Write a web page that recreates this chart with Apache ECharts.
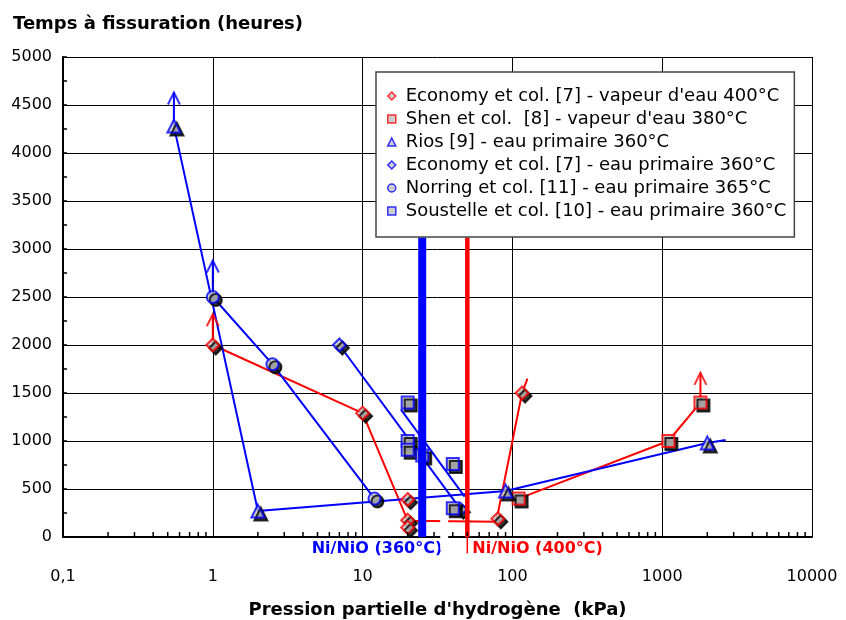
<!DOCTYPE html>
<html><head><meta charset="utf-8">
<script src="https://cdn.jsdelivr.net/npm/echarts@6/dist/echarts.min.js"></script>
<style>html,body{margin:0;padding:0;background:#fff}#c{width:846px;height:620px}</style>
</head><body><div id="c"></div>
<script>
// ---- data (x: kPa, y: heures) ----
const xTickLabels = ['0,1', '1', '10', '100', '1000', '10000'];
const xMinorTicks = [0.2,0.3,0.4,0.5,0.6,0.7,0.8,0.9, 2,3,4,5,6,7,8,9, 20,30,40,50,60,70,80,90,
                     200,300,400,500,600,700,800,900, 2000,3000,4000,5000,6000,7000,8000,9000];
const seriesNames = [
  "Economy et col. [7] - vapeur d'eau 400°C",
  "Shen et col.  [8] - vapeur d'eau 380°C",
  "Rios [9] - eau primaire 360°C",
  "Economy et col. [7] - eau primaire 360°C",
  "Norring et col. [11] - eau primaire 365°C",
  "Soustelle et col. [10] - eau primaire 360°C"
];
const econVapPts   = [[1,2000],[10,1290],[20,390],[20,175],[20,100],[80,190],[116,1500]];
const econVapCurve = [[1,2000],[10,1290],[20,170],[78,160],[116,1500],[126,1650]];
const shenPts      = [[110,400],[1100,1000],[1800,1400]];
const shenCurve    = [[110,400],[1100,1000],[1800,1400]];
const riosPts      = [[0.55,4280],[2,270],[90,480],[2000,980]];
const riosCurve    = [[0.55,4280],[2,270],[90,480],[2000,980],[2650,1010]];
const econPrimPts  = [[7,2000],[45,290]];
const econPrimCurve= [[7,2000],[45,290]];
const norringPts   = [[1,2500],[2.5,1800],[12,400]];
const norringCurve = [[1,2500],[2.5,1800],[12,400]];
const soustPts     = [[20,1400],[20,1000],[20,910],[25,850],[40,760],[40,300]];
const soustCurve   = [[18,1330],[48,420]];
// arrows (lower bound results): [start, tip]
const econVapArrow = [[1,2000],[1,2320]];
const norringArrow = [[1,2500],[1,2880]];
const riosArrow    = [[0.55,4280],[0.55,4630]];
const shenArrow    = [[1800,1400],[1800,1710]];
// Ni/NiO equilibrium
const niNio360 = 25, niNio400 = 50;
const niNioTop = 3120, niNioBelow = -170;

const FONT = '"DejaVu Sans", Verdana, sans-serif';
const RED = '#ff0000', BLUE = '#0000ff', FILL = '#c0c0c0';

function markers(name, data, symbol, size, color) {
  return { type:'scatter', name, data, symbol, symbolSize:size, z:5,
    itemStyle:{ color:FILL, borderColor:color, borderWidth:2,
      shadowColor:'#000', shadowOffsetX:3, shadowOffsetY:3, shadowBlur:0 } };
}
function curve(id, data, color) {
  return { type:'line', name:id, data, symbol:'none', showSymbol:false, z:3,
    lineStyle:{ color, width:2 }, itemStyle:{color}, clip:false, silent:true };
}
function arrowHead(id, arrow, color) {
  return { type:'scatter', name:id, data:[arrow[1]], z:4, silent:true,
    symbol:'path://M0,12 L6,0 L12,12', symbolSize:[12,12], symbolOffset:[0,6],
    itemStyle:{ color:'rgba(0,0,0,0)', borderColor:color, borderWidth:2 } };
}

const chart = echarts.init(document.getElementById('c'), null, {renderer:'canvas'});
chart.setOption({
  animation:false,
  backgroundColor:'#fff',
  title:{ text:'Temps à fissuration (heures)', left:8, top:10,
    textStyle:{ fontFamily:FONT, fontSize:18, fontWeight:'bold', color:'#000' } },
  grid:{ left:63, right:34, top:57, bottom:83, containLabel:false, outerBoundsMode:'none' },
  legend:{
    data: seriesNames, orient:'vertical', align:'left', left:376, top:72,
    padding:[15,8,17,11], itemGap:5, itemWidth:8, itemHeight:8,
    backgroundColor:'#fff', borderColor:'#444', borderWidth:1.5, z:20,
    textStyle:{ fontFamily:FONT, fontSize:18, color:'#000', lineHeight:18, padding:[0,0,0,5] },
    itemStyle:{ borderWidth:1.5, shadowColor:'rgba(0,0,0,0)', shadowOffsetX:0, shadowOffsetY:0, shadowBlur:0 }
  },
  xAxis:{
    type:'log', logBase:10, min:0.1, max:10000,
    name:"Pression partielle d'hydrogène  (kPa)", nameLocation:'middle', nameGap:64,
    nameTextStyle:{ fontFamily:FONT, fontSize:18, fontWeight:'bold', color:'#000' },
    axisLine:{ show:true, lineStyle:{ color:'#000', width:2 } },
    axisTick:{ show:false },
    splitLine:{ show:true, lineStyle:{ color:'#000', width:1 } },
    axisLabel:{ margin:32, fontFamily:FONT, fontSize:16, color:'#000',
      formatter:(v)=> xTickLabels[Math.round(Math.log10(v)) + 1] }
  },
  yAxis:{
    type:'value', min:0, max:5000, interval:500,
    axisLine:{ show:true, lineStyle:{ color:'#000', width:2 } },
    axisTick:{ show:true, inside:true, length:4, lineStyle:{ color:'#000', width:1.5 } },
    minorTick:{ show:true, splitNumber:2, length:4, lineStyle:{ color:'#000', width:1.5 } },
    splitLine:{ show:true, lineStyle:{ color:'#000', width:1 } },
    axisLabel:{ margin:11, fontFamily:FONT, fontSize:16, color:'#000', formatter:(v)=>String(v) }
  },
  series:[
    curve('c1', econVapCurve, RED),
    curve('c2', shenCurve, RED),
    curve('c3', riosCurve, BLUE),
    curve('c4', econPrimCurve, BLUE),
    curve('c5', norringCurve, BLUE),
    curve('c6', soustCurve, BLUE),
    curve('a1', econVapArrow, RED),
    curve('a2', norringArrow, BLUE),
    curve('a3', riosArrow, BLUE),
    curve('a4', shenArrow, RED),
    arrowHead('h1', econVapArrow, RED),
    arrowHead('h2', norringArrow, BLUE),
    arrowHead('h3', riosArrow, BLUE),
    arrowHead('h4', shenArrow, RED),
    markers(seriesNames[0], econVapPts, 'diamond', 13, RED),
    markers(seriesNames[1], shenPts, 'rect', 12, RED),
    markers(seriesNames[2], riosPts, 'triangle', 13, BLUE),
    markers(seriesNames[3], econPrimPts, 'diamond', 13, BLUE),
    markers(seriesNames[4], norringPts, 'circle', 12, BLUE),
    markers(seriesNames[5], soustPts, 'rect', 12, BLUE),
    { type:'line', name:'b360', data:[[niNio360,0],[niNio360,niNioTop]], symbol:'none', z:8, silent:true,
      lineStyle:{ color:BLUE, width:8, cap:'butt' }, clip:false },
    { type:'line', name:'b400', data:[[niNio400,0],[niNio400,niNioTop]], symbol:'none', z:8, silent:true,
      lineStyle:{ color:RED, width:4.5, cap:'butt' }, clip:false },
    { type:'line', name:'b400low', data:[[niNio400,0],[niNio400,niNioBelow]], symbol:'none', z:8, silent:true,
      lineStyle:{ color:RED, width:1.5, cap:'butt' }, clip:false },
    { type:'custom', name:'minor', coordinateSystem:'cartesian2d', silent:true, clip:false, z:9,
      data: xMinorTicks.map(v=>[v,0]),
      renderItem:(p, api)=>{
        const pt = api.coord([api.value(0), 0]);
        return { type:'line', shape:{ x1:pt[0], y1:pt[1]-1, x2:pt[0], y2:pt[1]-5 },
          style:{ stroke:'#000', lineWidth:1.5 } };
      } }
  ]
});

const pB = chart.convertToPixel({xAxisIndex:0, yAxisIndex:0}, [niNio360, 0]);
const pR = chart.convertToPixel({xAxisIndex:0, yAxisIndex:0}, [niNio400, 0]);
chart.setOption({
  graphic:[
    { type:'text', x:pB[0]+20, y:pB[1]+12, z:90, zlevel:0,
      style:{ text:'Ni/NiO (360°C)', align:'right', verticalAlign:'middle',
        fontFamily:FONT, fontSize:16, fontWeight:'bold', fill:BLUE } },
    { type:'text', x:pR[0]+5, y:pB[1]+12, z:90, zlevel:0,
      style:{ text:'Ni/NiO (400°C)', align:'left', verticalAlign:'middle',
        fontFamily:FONT, fontSize:16, fontWeight:'bold', fill:RED } },
    { type:'rect', z:100, zlevel:0, shape:{ x:pB[0]+18, y:pB[1]-19, width:8, height:32 }, style:{ fill:'#fff' } }
  ]
});
</script>
</body></html>
